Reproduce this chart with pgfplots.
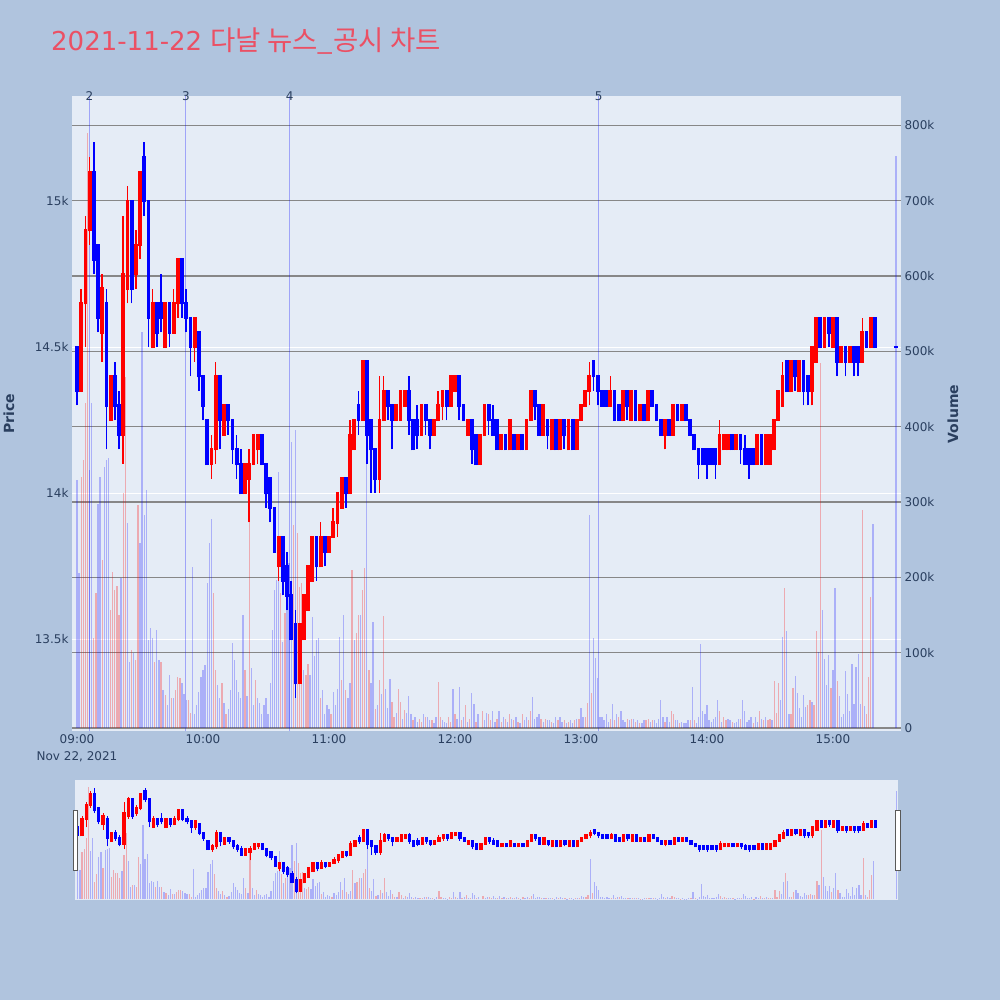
\documentclass[border=0pt]{standalone}
\usepackage{pgfplots}
\pgfplotsset{compat=1.18}
\usepackage{pgfplotstable}
\usepackage{fontspec}
\setmainfont{DejaVu Sans}
\newfontfamily\krfont{Noto Sans CJK KR}
\definecolor{pagebg}{HTML}{B0C4DE}
\definecolor{plotbg}{HTML}{E5ECF6}
\definecolor{axtext}{HTML}{2A3F5F}
\definecolor{titlecol}{RGB}{235,80,100}
\definecolor{gridgray}{RGB}{135,135,135}
\definecolor{cup}{RGB}{255,0,0}
\definecolor{cdown}{RGB}{0,0,255}

\pgfplotstableread{
t o h l c
0 14500 14500 14300 14350
2 14350 14700 14350 14650
4 14650 14950 14500 14900
6 14900 15150 14850 15100
8 15100 15200 14750 14800
10 14850 14850 14550 14600
12 14550 14750 14450 14700
14 14650 14700 14150 14300
16 14250 14400 14250 14400
18 14400 14450 14250 14300
20 14300 14350 14150 14200
22 14200 14950 14100 14750
24 14700 15050 14650 15000
26 15000 15000 14650 14700
28 14750 14900 14700 14850
30 14850 15100 14800 15100
32 15150 15200 14950 15000
34 15000 15000 14500 14600
36 14500 14700 14500 14650
38 14650 14650 14500 14550
40 14650 14750 14550 14600
42 14500 14650 14500 14650
44 14650 14650 14500 14550
46 14550 14700 14550 14650
48 14650 14800 14600 14800
50 14800 14800 14600 14650
52 14650 14700 14550 14600
54 14600 14600 14400 14500
56 14500 14600 14450 14600
58 14550 14550 14350 14400
60 14400 14400 14250 14300
62 14250 14250 14100 14100
64 14100 14200 14050 14150
66 14150 14450 14100 14400
68 14400 14400 14150 14250
70 14200 14300 14200 14300
72 14300 14300 14200 14250
74 14250 14250 14100 14150
76 14150 14200 14050 14100
78 14100 14150 14000 14000
80 14000 14100 14000 14100
82 14050 14150 13900 14100
84 14100 14200 14100 14200
86 14150 14200 14100 14200
88 14200 14200 14100 14100
90 14100 14100 13950 14000
92 14050 14050 13900 13950
94 13950 13950 13800 13800
96 13750 13850 13700 13850
98 13850 13850 13650 13700
100 13750 13800 13600 13650
102 13650 13700 13500 13500
104 13550 13600 13300 13350
106 13350 13550 13350 13550
108 13500 13650 13500 13650
110 13600 13750 13600 13750
112 13700 13850 13700 13850
114 13850 13850 13700 13750
116 13750 13900 13750 13850
118 13850 13850 13750 13800
120 13800 13850 13800 13850
122 13850 13950 13850 13900
124 13900 14000 13850 14000
126 13950 14050 13950 14050
128 14050 14050 13950 14000
130 14000 14250 14000 14200
132 14150 14250 14150 14250
134 14300 14350 14200 14250
136 14250 14450 14250 14450
138 14450 14450 14100 14200
140 14250 14250 14000 14150
142 14150 14150 14000 14050
144 14050 14400 14000 14250
146 14250 14400 14250 14350
148 14350 14350 14250 14300
150 14300 14300 14150 14250
152 14250 14300 14250 14300
154 14250 14350 14250 14350
156 14300 14350 14300 14350
158 14350 14400 14200 14250
160 14250 14250 14150 14150
162 14250 14300 14150 14200
164 14200 14300 14200 14300
166 14300 14300 14200 14250
168 14250 14250 14150 14200
170 14200 14250 14200 14250
172 14250 14350 14250 14300
174 14300 14350 14250 14350
176 14350 14350 14250 14300
178 14300 14400 14300 14400
180 14350 14400 14350 14400
182 14400 14400 14250 14300
184 14300 14300 14250 14250
186 14200 14250 14200 14250
188 14250 14250 14100 14150
190 14200 14200 14100 14100
192 14100 14200 14100 14200
194 14200 14300 14200 14300
196 14300 14300 14200 14250
198 14250 14300 14200 14200
200 14250 14250 14150 14150
202 14150 14200 14150 14200
204 14200 14200 14150 14150
206 14150 14250 14150 14250
208 14200 14200 14150 14150
210 14150 14200 14150 14200
212 14200 14200 14150 14150
214 14150 14250 14150 14250
216 14250 14350 14250 14350
218 14350 14350 14250 14300
220 14300 14300 14200 14200
222 14200 14300 14200 14300
224 14250 14250 14150 14200
226 14150 14250 14150 14250
228 14250 14250 14150 14150
230 14150 14250 14150 14250
232 14250 14250 14150 14200
234 14150 14250 14150 14250
236 14250 14250 14150 14150
238 14150 14250 14150 14250
240 14250 14300 14250 14300
242 14300 14350 14300 14350
244 14350 14450 14300 14400
246 14450 14450 14350 14400
248 14400 14400 14300 14350
250 14350 14350 14300 14300
252 14350 14350 14300 14300
254 14300 14400 14300 14350
256 14350 14350 14250 14250
258 14300 14300 14250 14250
260 14250 14350 14250 14350
262 14350 14350 14250 14300
264 14250 14350 14250 14350
266 14350 14350 14250 14250
268 14250 14300 14250 14300
270 14300 14300 14250 14250
272 14250 14350 14250 14350
274 14350 14350 14300 14300
276 14300 14300 14250 14250
278 14250 14250 14200 14200
280 14200 14250 14150 14250
282 14250 14250 14200 14200
284 14200 14300 14200 14300
286 14300 14300 14250 14250
288 14250 14300 14250 14300
290 14300 14300 14250 14250
292 14250 14250 14200 14200
294 14200 14200 14150 14150
296 14150 14150 14050 14100
298 14150 14150 14100 14100
300 14150 14150 14050 14100
302 14150 14150 14100 14100
304 14150 14150 14050 14100
306 14100 14250 14100 14200
308 14150 14200 14150 14200
310 14150 14200 14150 14200
312 14200 14200 14150 14150
314 14150 14200 14150 14200
316 14200 14200 14100 14150
318 14150 14200 14100 14100
320 14150 14150 14050 14100
322 14150 14150 14100 14100
324 14100 14200 14100 14200
326 14200 14200 14100 14100
328 14100 14200 14100 14200
330 14100 14200 14100 14200
332 14150 14250 14150 14250
334 14250 14350 14250 14350
336 14300 14450 14300 14400
338 14450 14450 14350 14350
340 14350 14450 14350 14450
342 14450 14450 14350 14400
344 14350 14450 14350 14450
346 14450 14450 14300 14350
348 14400 14400 14300 14350
350 14350 14500 14300 14500
352 14450 14600 14450 14600
354 14600 14600 14500 14500
356 14500 14600 14500 14600
358 14600 14600 14500 14550
360 14500 14600 14500 14600
362 14600 14600 14400 14450
364 14450 14500 14450 14500
366 14500 14500 14400 14450
368 14450 14500 14450 14500
370 14500 14500 14400 14450
372 14500 14500 14400 14450
374 14450 14600 14450 14550
376 14550 14550 14500 14500
378 14500 14600 14500 14600
380 14600 14600 14500 14500
390 14500 14500 14500 14500
}\candles

\pgfplotstableread[row sep=\\]{t v\\0 329\\1 206\\6 343\\7 431\\10 297\\11 333\\13 347\\14 356\\15 359\\21 199\\24 272\\25 87\\27 100\\30 246\\31 526\\32 283\\33 316\\34 117\\35 133\\36 120\\38 130\\39 90\\41 50\\43 30\\44 70\\46 40\\50 60\\51 45\\52 37\\55 214\\56 19\\57 30\\58 48\\59 68\\60 77\\61 83\\62 193\\63 246\\64 278\\67 57\\68 40\\70 33\\72 25\\73 50\\74 113\\75 90\\76 64\\77 48\\78 40\\79 150\\81 42\\83 80\\84 30\\86 40\\87 33\\88 19\\89 30\\90 40\\91 19\\92 60\\93 130\\94 183\\95 197\\96 340\\98 114\\100 206\\101 219\\102 380\\104 396\\108 77\\111 70\\112 147\\113 95\\114 117\\115 120\\117 50\\118 19\\119 30\\120 25\\122 48\\123 30\\124 52\\125 121\\127 150\\129 40\\130 60\\132 117\\135 150\\138 420\\140 60\\141 141\\143 30\\145 45\\147 52\\148 26\\149 65\\152 20\\155 12\\157 20\\158 43\\159 19\\161 15\\162 8\\165 19\\167 15\\168 10\\170 6\\171 15\\174 10\\175 8\\176 6\\179 52\\181 12\\182 54\\184 15\\186 8\\188 46\\189 32\\191 19\\194 10\\195 20\\198 23\\199 8\\201 23\\203 15\\205 8\\207 12\\209 15\\211 6\\213 10\\214 15\\217 41\\218 12\\219 15\\220 19\\222 8\\224 10\\225 10\\227 6\\228 15\\230 15\\231 8\\233 6\\235 10\\236 6\\238 12\\240 27\\241 15\\244 283\\246 120\\247 93\\248 66\\249 15\\250 15\\251 10\\252 19\\253 8\\255 32\\257 19\\259 23\\260 10\\261 8\\263 10\\265 12\\267 10\\269 6\\270 10\\273 8\\275 10\\276 6\\277 12\\278 37\\279 15\\281 15\\282 8\\285 10\\286 10\\288 8\\289 6\\290 6\\291 10\\293 55\\295 6\\296 15\\297 111\\298 23\\299 19\\300 30\\301 10\\302 8\\303 12\\304 15\\305 37\\307 8\\310 12\\311 10\\313 6\\314 8\\315 12\\317 37\\318 23\\319 8\\320 10\\321 15\\323 15\\324 8\\326 12\\328 15\\331 10\\335 37\\336 121\\338 129\\339 19\\342 69\\343 47\\344 26\\345 15\\346 44\\347 28\\350 34\\353 101\\355 157\\356 91\\357 57\\358 97\\360 77\\361 186\\363 43\\364 15\\365 19\\366 75\\367 45\\368 23\\369 85\\370 32\\371 81\\372 98\\373 32\\375 29\\379 271\\390 760\\}\volB

\pgfplotstableread[row sep=\\]{t v\\2 333\\3 356\\4 431\\5 790\\8 120\\9 179\\12 223\\16 157\\17 207\\18 183\\19 188\\20 150\\22 312\\23 466\\26 104\\28 90\\29 296\\37 87\\40 87\\42 44\\45 40\\47 50\\48 68\\49 66\\53 37\\54 20\\65 179\\66 77\\69 60\\71 19\\80 77\\82 364\\85 64\\97 179\\99 152\\103 270\\105 259\\106 187\\107 192\\109 70\\110 85\\116 40\\121 19\\126 64\\128 50\\131 210\\133 126\\134 150\\136 183\\137 212\\139 77\\142 25\\144 64\\146 149\\150 35\\151 15\\153 52\\154 34\\156 24\\160 10\\163 12\\164 8\\166 15\\169 10\\172 61\\173 15\\177 15\\178 8\\180 19\\183 10\\185 31\\187 12\\190 8\\193 23\\196 19\\197 10\\200 12\\202 8\\204 12\\206 19\\208 10\\210 8\\212 19\\215 10\\216 23\\221 12\\223 12\\226 8\\229 10\\232 10\\234 8\\237 10\\239 12\\242 15\\243 33\\245 46\\254 12\\256 10\\258 15\\262 12\\264 12\\266 8\\268 6\\271 10\\272 12\\274 10\\280 8\\283 23\\284 19\\287 6\\292 10\\294 10\\306 23\\308 15\\309 10\\312 8\\316 12\\322 6\\325 22\\327 10\\329 10\\330 12\\332 63\\333 20\\334 60\\337 186\\340 19\\341 53\\348 30\\349 37\\351 30\\352 129\\354 485\\359 53\\362 63\\374 290\\376 19\\377 68\\378 174\\}\volR

\pgfplotsset{
  candle/.style={only marks, mark size=0pt, mark options={draw=none, fill=none},
    error bars/y dir=plus, error bars/y explicit, error bars/error mark=none},
}

\newcommand{\drawcandles}[3]{%
  \addplot[candle, restrict expr to domain={\thisrow{c}-\thisrow{o}}{-100000:0},
    error bars/error bar style={line width=#1, draw=cdown}]
    table[x=t, y=l, y error plus expr={\thisrow{h}-\thisrow{l}}] {\candles};
  \addplot[candle, restrict expr to domain={\thisrow{c}-\thisrow{o}}{-100000:0},
    error bars/error bar style={line width=#2, draw=cdown}]
    table[x=t, y expr={min(\thisrow{o},\thisrow{c})-#3}, y error plus expr={abs(\thisrow{c}-\thisrow{o})+2*#3}] {\candles};
  \addplot[candle, restrict expr to domain={\thisrow{c}-\thisrow{o}}{1:100000},
    error bars/error bar style={line width=#1, draw=cup}]
    table[x=t, y=l, y error plus expr={\thisrow{h}-\thisrow{l}}] {\candles};
  \addplot[candle, restrict expr to domain={\thisrow{c}-\thisrow{o}}{1:100000},
    error bars/error bar style={line width=#2, draw=cup}]
    table[x=t, y expr={min(\thisrow{o},\thisrow{c})-#3}, y error plus expr={abs(\thisrow{c}-\thisrow{o})+2*#3}] {\candles};
}

\pgfplotsset{
  mainbox/.style={scale only axis, width=829pt, height=635pt, xmin=-2.4, xmax=392.4,
    at={(72pt,-731pt)}, anchor=south west, axis line style={draw=none}, major tick length=0pt,
    scaled ticks=false, tick label style={font=\fontsize{12}{14}\selectfont, text=axtext}},
  slidebox/.style={scale only axis, width=822.7pt, height=120pt, xmin=-1.2, xmax=390.6,
    at={(75.3pt,-900pt)}, anchor=south west, axis line style={draw=none}, major tick length=0pt,
    xtick=\empty, ytick=\empty},
}

\begin{document}
\begin{tikzpicture}
\useasboundingbox (0,0) rectangle (1000pt,-1000pt);
\fill[pagebg] (0,0) rectangle (1000pt,-1000pt);

% price axis: background + white grid + labels
\begin{axis}[mainbox, ymin=13186, ymax=15359,
  axis background/.style={fill=plotbg},
  ytick={13500,14000,14500,15000}, yticklabels={13.5k,14k,14.5k,15k},
  xtick={0,60,120,180,240,300,360}, xticklabels={09:00,10:00,11:00,12:00,13:00,14:00,15:00},
  ymajorgrids, major grid style={white, line width=1pt}]
\end{axis}

% volume axis
\begin{axis}[mainbox, ymin=-4, ymax=839, xtick=\empty, yticklabel pos=right,
  ytick={100,200,300,400,500,600,700,800}, yticklabels={100k,200k,300k,400k,500k,600k,700k,800k},
  extra y ticks={0}, extra y tick labels={0},
  extra y tick style={grid style={white, line width=2pt}},
  ymajorgrids, major grid style={gridgray, line width=1.1pt}]
\addplot[ycomb, mark=none, draw=cup, draw opacity=0.28, line width=1.3pt] table[x=t, y=v] {\volR};
\addplot[ycomb, mark=none, draw=cdown, draw opacity=0.25, line width=1.3pt] table[x=t, y=v] {\volB};
\end{axis}

% candles + news lines
\begin{axis}[mainbox, ymin=13186, ymax=15359, xtick=\empty, ytick=\empty]
\addplot[cdown, opacity=0.3, line width=1pt] coordinates {(5.95,13186) (5.95,15359)};
\addplot[cdown, opacity=0.3, line width=1pt] coordinates {(51.86,13186) (51.86,15359)};
\addplot[cdown, opacity=0.3, line width=1pt] coordinates {(101.3,13186) (101.3,15359)};
\addplot[cdown, opacity=0.3, line width=1pt] coordinates {(248.4,13186) (248.4,15359)};
\drawcandles{1.5pt}{3.8pt}{4}
\end{axis}

% range slider
\begin{axis}[slidebox, ymin=-4, ymax=839, axis background/.style={fill=plotbg}]
\addplot[ycomb, mark=none, draw=cup, draw opacity=0.28, line width=1.2pt] table[x=t, y=v] {\volR};
\addplot[ycomb, mark=none, draw=cdown, draw opacity=0.25, line width=1.2pt] table[x=t, y=v] {\volB};
\end{axis}
\begin{axis}[slidebox, ymin=13180, ymax=15350]
\drawcandles{1pt}{3.2pt}{18}
\end{axis}

\filldraw[fill=white, draw=gray!70!black, line width=0.8pt] (73pt,-810pt) rectangle (77.5pt,-870pt);
\filldraw[fill=white, draw=gray!70!black, line width=0.8pt] (895.5pt,-810pt) rectangle (900pt,-870pt);

% texts
\node[anchor=base west, text=titlecol, font=\fontsize{26}{30}\selectfont, inner sep=0pt] at (51pt,-51pt) {2021-11-22 {\krfont\fontsize{27.5}{30}\selectfont 다날 뉴스\_공시 차트}};
\node[rotate=90, text=axtext, font=\bfseries\fontsize{14}{16}\selectfont] at (9pt,-414pt) {Price};
\node[rotate=90, text=axtext, font=\bfseries\fontsize{14}{16}\selectfont] at (953pt,-414pt) {Volume};
\node[text=axtext, font=\fontsize{12}{14}\selectfont] at (77pt,-757pt) {Nov 22, 2021};
\node[text=axtext, font=\fontsize{12}{14}\selectfont] at (89.5pt,-96pt) {2};
\node[text=axtext, font=\fontsize{12}{14}\selectfont] at (185.9pt,-96pt) {3};
\node[text=axtext, font=\fontsize{12}{14}\selectfont] at (289.8pt,-96pt) {4};
\node[text=axtext, font=\fontsize{12}{14}\selectfont] at (598.7pt,-96pt) {5};
\end{tikzpicture}
\end{document}
